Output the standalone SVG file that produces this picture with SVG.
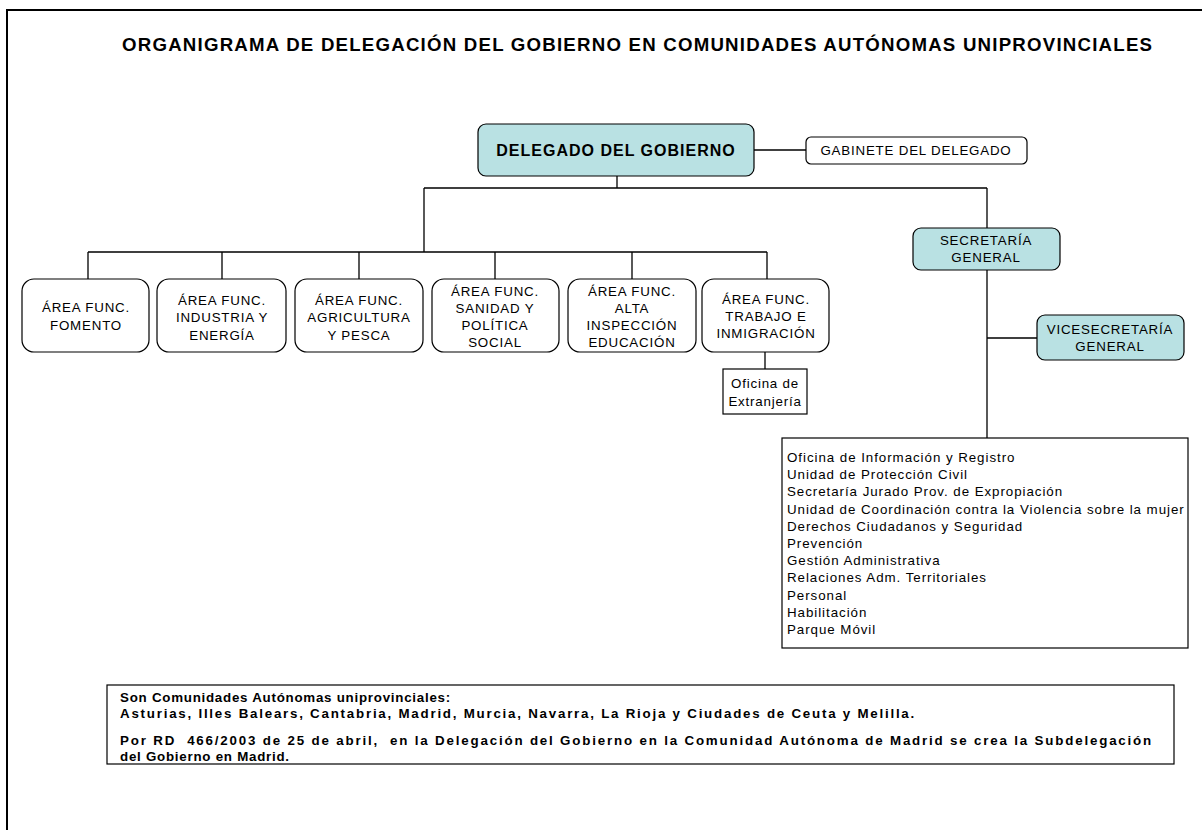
<svg xmlns="http://www.w3.org/2000/svg" width="1202" height="830" viewBox="0 0 1202 830">
<style>
text{font-family:"Liberation Sans",Arial,sans-serif;fill:#000}
.t{font-size:13.33px;letter-spacing:0.8px;text-anchor:middle}
.lst{font-size:13.33px;letter-spacing:0.95px}
.nt{font-size:13.33px;font-weight:bold;letter-spacing:0.75px;white-space:pre}
.box{fill:#fff;stroke:#000;stroke-width:1.2}
.hl{fill:#b9e1e3;stroke:#000;stroke-width:1.2}
.c{fill:none;stroke:#000;stroke-width:1.3}
</style>
<rect x="0" y="0" width="1202" height="830" fill="#fff"/>
<path d="M7,830 V10 H1202" fill="none" stroke="#000" stroke-width="2"/>
<text x="122" y="51" font-size="18.67" font-weight="bold" textLength="1030" lengthAdjust="spacing">ORGANIGRAMA DE DELEGACIÓN DEL GOBIERNO EN COMUNIDADES AUTÓNOMAS UNIPROVINCIALES</text>

<g id="connectors">
<path class="c" d="M754,150 H806"/>
<path class="c" d="M617,176 V188 M424,188 H987 M424,188 V252 M987,188 V228"/>
<path class="c" d="M88,252 H767 M88,252 V279 M222,252 V279 M359,252 V279 M495,252 V279 M632,252 V279 M767,252 V279"/>
<path class="c" d="M765,352 V369"/>
<path class="c" d="M987,270 V438 M987,338 H1037"/>
</g>

<g id="delegado">
<rect class="hl" x="478" y="124" width="276" height="52" rx="8"/>
<text x="616" y="156" font-size="16" font-weight="bold" text-anchor="middle" letter-spacing="1">DELEGADO DEL GOBIERNO</text>
</g>
<g id="gabinete">
<rect class="box" x="806" y="137" width="221" height="27" rx="5"/>
<text class="t" x="916" y="155">GABINETE DEL DELEGADO</text>
</g>

<g id="area-fomento">
<rect class="box" x="22" y="279" width="127" height="73" rx="12"/>
<text class="t" x="86" y="312">ÁREA FUNC.</text>
<text class="t" x="86" y="330">FOMENTO</text>
</g>
<g id="area-industria">
<rect class="box" x="157" y="279" width="129" height="73" rx="12"/>
<text class="t" x="222" y="305">ÁREA FUNC.</text>
<text class="t" x="222" y="322">INDUSTRIA Y</text>
<text class="t" x="222" y="340">ENERGÍA</text>
</g>
<g id="area-agricultura">
<rect class="box" x="295" y="279" width="128" height="73" rx="12"/>
<text class="t" x="359" y="305">ÁREA FUNC.</text>
<text class="t" x="359" y="322">AGRICULTURA</text>
<text class="t" x="359" y="340">Y PESCA</text>
</g>
<g id="area-sanidad">
<rect class="box" x="432" y="279" width="127" height="73" rx="12"/>
<text class="t" x="495" y="296">ÁREA FUNC.</text>
<text class="t" x="495" y="313">SANIDAD Y</text>
<text class="t" x="495" y="330">POLÍTICA</text>
<text class="t" x="495" y="347">SOCIAL</text>
</g>
<g id="area-educacion">
<rect class="box" x="568" y="279" width="128" height="73" rx="12"/>
<text class="t" x="632" y="296">ÁREA FUNC.</text>
<text class="t" x="632" y="313">ALTA</text>
<text class="t" x="632" y="330">INSPECCIÓN</text>
<text class="t" x="632" y="347">EDUCACIÓN</text>
</g>
<g id="area-trabajo">
<rect class="box" x="702" y="279" width="127" height="73" rx="12"/>
<text class="t" x="766" y="304">ÁREA FUNC.</text>
<text class="t" x="766" y="321">TRABAJO E</text>
<text class="t" x="766" y="338">INMIGRACIÓN</text>
</g>
<g id="oficina-extranjeria">
<rect class="box" x="723" y="369" width="84" height="45"/>
<text class="t" x="765" y="388">Oficina de</text>
<text class="t" x="765" y="406">Extranjería</text>
</g>

<g id="secretaria">
<rect class="hl" x="913" y="228" width="147" height="42" rx="8"/>
<text class="t" x="986" y="245">SECRETARÍA</text>
<text class="t" x="986" y="262">GENERAL</text>
</g>
<g id="vicesecretaria">
<rect class="hl" x="1037" y="315" width="147" height="45" rx="8"/>
<text class="t" x="1110" y="334">VICESECRETARÍA</text>
<text class="t" x="1110" y="351">GENERAL</text>
</g>

<g id="unidades">
<rect class="box" x="782" y="438" width="406" height="210"/>
<text class="lst" x="787" y="462">Oficina de Información y Registro</text>
<text class="lst" x="787" y="479">Unidad de Protección Civil</text>
<text class="lst" x="787" y="496">Secretaría Jurado Prov. de Expropiación</text>
<text class="lst" x="787" y="514">Unidad de Coordinación contra la Violencia sobre la mujer</text>
<text class="lst" x="787" y="531">Derechos Ciudadanos y Seguridad</text>
<text class="lst" x="787" y="548">Prevención</text>
<text class="lst" x="787" y="565">Gestión Administrativa</text>
<text class="lst" x="787" y="582">Relaciones Adm. Territoriales</text>
<text class="lst" x="787" y="600">Personal</text>
<text class="lst" x="787" y="617">Habilitación</text>
<text class="lst" x="787" y="634">Parque Móvil</text>
</g>

<g id="nota">
<rect class="box" x="107" y="685" width="1067" height="79"/>
<text class="nt" x="120" y="702">Son Comunidades Autónomas uniprovinciales:</text>
<text class="nt" x="120" y="718" textLength="795" lengthAdjust="spacing">Asturias, Illes Balears, Cantabria, Madrid, Murcia, Navarra, La Rioja y Ciudades de Ceuta y Melilla.</text>
<text class="nt" x="120" y="745" textLength="1032" lengthAdjust="spacing">Por RD  466/2003 de 25 de abril,  en la Delegación del Gobierno en la Comunidad Autónoma de Madrid se crea la Subdelegación</text>
<text class="nt" x="120" y="761">del Gobierno en Madrid.</text>
</g>
</svg>
